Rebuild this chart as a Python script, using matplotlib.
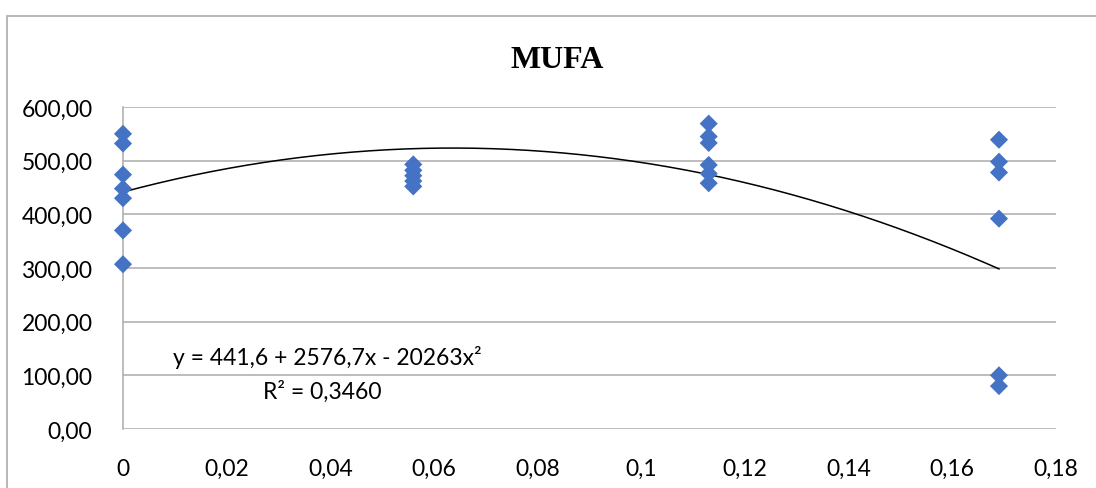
import numpy as np
import matplotlib
matplotlib.use('Agg')
import matplotlib.pyplot as plt
from matplotlib.patches import Rectangle
from matplotlib.ticker import FuncFormatter

# dados
x_0 = [0] * 7
mufa_0 = [550, 532, 474, 448, 430, 370, 307]
x_1 = [0.056] * 5
mufa_1 = [493, 482, 472, 462, 452]
x_2 = [0.113] * 6
mufa_2 = [569, 545, 533, 492, 476, 458]
x_3 = [0.169] * 6
mufa_3 = [539, 498, 478, 392, 100, 80]

# linha de tendencia (polinomial de ordem 2, coeficientes do grafico)
coef = [441.6, 2576.7, -20263]
equacao = 'y = 441,6 + 2576,7x - 20263x²'
r2_texto = 'R² = 0,3460'

xs = np.concatenate([x_0, x_1, x_2, x_3])
ys = np.concatenate([mufa_0, mufa_1, mufa_2, mufa_3])

plt.rcParams['font.family'] = ['Lato', 'DejaVu Sans']

fig = plt.figure(figsize=(10.96, 4.89), dpi=100)
ax = fig.add_axes([123/1096, 1 - 430/489, (1056 - 123)/1096, (430 - 108)/489])

cinza = '#ABABAB'
ax.set_xlim(0, 0.18)
ax.set_ylim(0, 600)
ax.set_xticks(np.arange(0, 0.181, 0.02))
ax.set_yticks(np.arange(0, 601, 100))
ax.yaxis.set_major_formatter(FuncFormatter(lambda v, p: f'{v:.2f}'.replace('.', ',')))
ax.xaxis.set_major_formatter(FuncFormatter(lambda v, p: '0' if v == 0 else f'{v:.2f}'.rstrip('0').replace('.', ',')))
ax.grid(axis='y', color=cinza, linewidth=1.1)
ax.set_axisbelow(True)
for lado in ['top', 'right', 'bottom']:
    ax.spines[lado].set_visible(False)
ax.spines['left'].set_color(cinza)
ax.spines['left'].set_linewidth(1.1)
ax.tick_params(length=0, labelsize=16.5, colors='black')
ax.tick_params(axis='y', pad=22)
ax.tick_params(axis='x', pad=21)

xt = np.linspace(0, max(xs), 200)
yt = coef[0] + coef[1] * xt + coef[2] * xt**2
ax.plot(xt, yt, color='black', linewidth=1.1, zorder=2)

ax.scatter(xs, ys, marker='D', s=85, color='#4472C4', edgecolors='none', zorder=3, clip_on=False)

ax.text(0.0394, 136, equacao, ha='center', va='center', fontsize=16.5)
ax.text(0.0384, 72, r2_texto, ha='center', va='center', fontsize=16.5)

fig.text(557/1096, 1 - 60/489, 'MUFA', ha='center', va='center', fontsize=23,
         fontweight='bold', family='Liberation Serif')

# moldura do grafico
fig.patches.append(Rectangle((7/1096, -0.1), 1.2, (489 - 17)/489 + 0.1, transform=fig.transFigure,
                             fill=False, edgecolor=cinza, linewidth=1.2))

plt.savefig('out.png', dpi=100)
